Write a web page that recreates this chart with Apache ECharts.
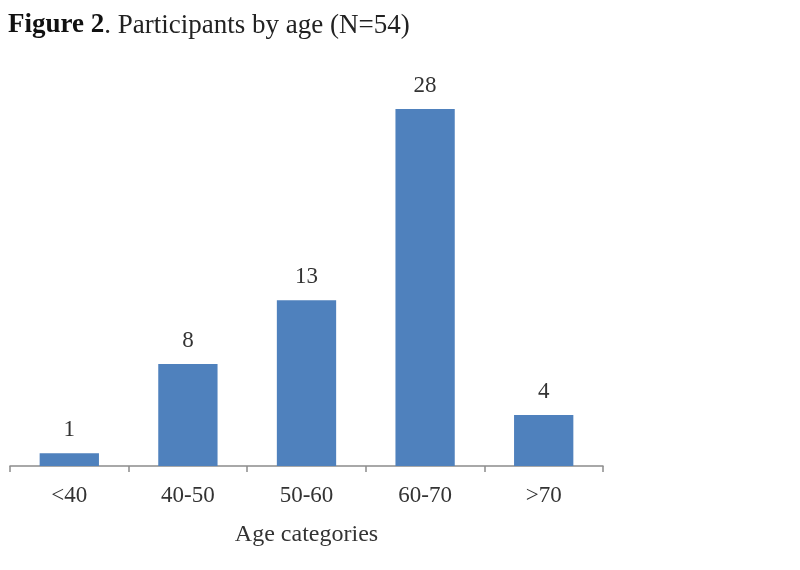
<!DOCTYPE html>
<html>
<head>
<meta charset="utf-8">
<script src="https://cdn.jsdelivr.net/npm/echarts@6/dist/echarts.min.js"></script>
<style>html,body{margin:0;padding:0;background:#fff}#c{width:800px;height:570px}</style>
</head>
<body>
<div id="c"></div>
<script>
const categories = ['<40', '40-50', '50-60', '60-70', '>70'];
const participants = [1, 8, 13, 28, 4];
const xAxisName = 'Age categories';

const chart = echarts.init(document.getElementById('c'));
chart.setOption({
  animation: false,
  backgroundColor: '#fff',
  title: {
    text: '{b|Figure 2}{n|. Participants by age (N=54)}',
    left: 3, top: 7,
    textStyle: {
      fontWeight: 'normal',
      rich: {
        b: { fontFamily: 'Liberation Serif', fontWeight: 'bold', fontSize: 27, color: '#111' },
        n: { fontFamily: 'Liberation Serif', fontWeight: 'normal', fontSize: 27, color: '#222' }
      }
    }
  },
  grid: { left: 10, right: 197, top: 109, bottom: 104, containLabel: false },
  xAxis: {
    type: 'category',
    data: categories,
    name: xAxisName,
    nameLocation: 'middle',
    nameGap: 57,
    nameTextStyle: { fontFamily: 'Liberation Serif', fontSize: 24, color: '#333' },
    axisLine: { lineStyle: { color: '#8c8c8c', width: 1.5 } },
    axisTick: { show: true, length: 6, lineStyle: { color: '#8c8c8c', width: 1.5 } },
    axisLabel: { fontFamily: 'Liberation Serif', fontSize: 23, color: '#333', margin: 18 }
  },
  yAxis: {
    type: 'value', min: 0, max: 28,
    show: false,
    splitLine: { show: false }
  },
  series: [{
    type: 'bar',
    data: participants,
    barWidth: '50%',
    itemStyle: { color: '#4F81BD' },
    label: {
      show: true, position: 'top', distance: 12,
      fontFamily: 'Liberation Serif', fontSize: 23, color: '#333'
    }
  }]
});
</script>
</body>
</html>
